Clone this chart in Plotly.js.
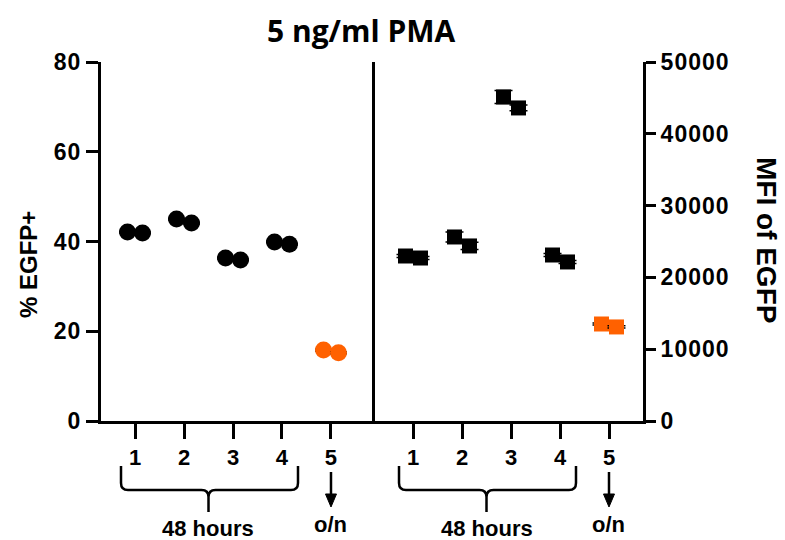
<!DOCTYPE html>
<html>
<head>
<meta charset="utf-8">
<script src="https://cdn.plot.ly/plotly-3.0.1.min.js"></script>
<style>
  html, body { margin: 0; padding: 0; background: #fff; }
  #chart { width: 785px; height: 540px; }
  g.ytick text, g.y2tick text { letter-spacing: 1px; }
</style>
</head>
<body>
<div id="chart"></div>
<script>
// ---- data ----
const groups = [1, 2, 3, 4, 5];
const groupLabels = ['1', '2', '3', '4', '5'];
const pctRep1 = [42.1, 45.0, 36.3, 39.9, 15.8];   // % EGFP+, first replicate
const pctRep2 = [41.9, 44.1, 35.9, 39.4, 15.2];   // % EGFP+, second replicate
const pctErr1 = [0.2, 0.2, 0.2, 0.2, 0.2];
const pctErr2 = [0.2, 0.2, 0.2, 0.2, 0.2];
const mfiRep1 = [22980, 25630, 45130, 23120, 13510]; // MFI of EGFP, first replicate
const mfiRep2 = [22700, 24380, 43600, 22150, 13100]; // MFI of EGFP, second replicate
const mfiErr1 = [200, 700, 900, 200, 150];
const mfiErr2 = [200, 500, 400, 200, 150];
const pointColors = ['#000000', '#000000', '#000000', '#000000', '#FF6100'];
const yTicksPct = [0, 20, 40, 60, 80];
const yTicksMfi = [0, 10000, 20000, 30000, 40000, 50000];
const yTickTextMfi = ['0', '10000', '20000', '30000', '40000', '50000'];

// ---- layout geometry ----
const W = 785, H = 540;
const M = { l: 101, r: 142, t: 62, b: 119 };
const plotW = W - M.l - M.r, plotH = H - M.t - M.b;
const xRange1 = [0.306, 5.837];
const xRange2 = [0.163, 5.694];
const dom1 = [0, 0.5], dom2 = [0.5, 1];
const jitter = 0.153;

function dataToPx(v, range, dom) {
  const x0 = M.l + dom[0] * plotW, x1 = M.l + dom[1] * plotW;
  return x0 + (v - range[0]) / (range[1] - range[0]) * (x1 - x0);
}
const pxX = px => (px - M.l) / plotW;
const pxY = py => (M.t + plotH - py) / plotH;

const font = 'Liberation Sans, Arial, sans-serif';

function trace(xs, ys, errs, xa, ya, symbol, size, capW) {
  return {
    type: 'scatter', mode: 'markers', x: xs, y: ys, xaxis: xa, yaxis: ya,
    marker: { symbol: symbol, size: size, color: pointColors, line: { width: 0 } },
    error_y: { type: 'data', array: errs, visible: true, color: '#000', thickness: 1.5, width: capW },
    cliponaxis: false, hoverinfo: 'skip', showlegend: false
  };
}

const data = [
  trace(groups.map(g => g - jitter), pctRep1, pctErr1, 'x', 'y', 'circle', 17, 8.5),
  trace(groups.map(g => g + jitter), pctRep2, pctErr2, 'x', 'y', 'circle', 17, 8.5),
  trace(groups.map(g => g - jitter), mfiRep1, mfiErr1, 'x2', 'y2', 'square', 15, 9),
  trace(groups.map(g => g + jitter), mfiRep2, mfiErr2, 'x2', 'y2', 'square', 15, 9)
];

const axisCommon = {
  showgrid: false, zeroline: false, showline: true, linecolor: '#000', linewidth: 3,
  ticks: 'outside', tickcolor: '#000', fixedrange: true
};
const xTickFont = { family: font, size: 22, color: '#000', weight: 'bold' };
const yTickFont = { family: font, size: 23, color: '#000', weight: 'bold' };

// braces, arrows
const shapes = [];
const annotations = [];
function addBraceAndArrow(range, dom) {
  const t1 = dataToPx(groups[0], range, dom);
  const t2 = dataToPx(groups[1], range, dom);
  const t3 = dataToPx(groups[2], range, dom);
  const t4 = dataToPx(groups[3], range, dom);
  const t5 = dataToPx(groups[4], range, dom);
  const xL = t1 - 14, xR = t4 + 16, xc = (t2 + t3) / 2;
  const yTop = 466, yMid = 490, yBot = 512, r = 7;
  const P = (x, y) => pxX(x).toFixed(5) + ',' + pxY(y).toFixed(5);
  const path =
    'M' + P(xL, yTop) + ' L' + P(xL, yMid - r) + ' Q' + P(xL, yMid) + ' ' + P(xL + r, yMid) +
    ' L' + P(xc - r, yMid) + ' Q' + P(xc, yMid) + ' ' + P(xc, yMid + r) + ' L' + P(xc, yBot) +
    ' M' + P(xc, yMid + r) + ' Q' + P(xc, yMid) + ' ' + P(xc + r, yMid) +
    ' L' + P(xR - r, yMid) + ' Q' + P(xR, yMid) + ' ' + P(xR, yMid - r) + ' L' + P(xR, yTop);
  shapes.push({ type: 'path', xref: 'paper', yref: 'paper', path: path,
    line: { color: '#000', width: 2.5 } });
  // arrow under group 5
  shapes.push({ type: 'line', xref: 'paper', yref: 'paper',
    x0: pxX(t5), x1: pxX(t5), y0: pxY(472), y1: pxY(496), line: { color: '#000', width: 2.5 } });
  shapes.push({ type: 'path', xref: 'paper', yref: 'paper',
    path: 'M' + P(t5 - 5.5, 494) + ' L' + P(t5 + 5.5, 494) + ' L' + P(t5, 507) + ' Z',
    fillcolor: '#000', line: { color: '#000', width: 1 } });
  annotations.push({ xref: 'paper', yref: 'paper', x: pxX(xc), y: pxY(528),
    text: '<b>48 hours</b>', showarrow: false, xanchor: 'center', yanchor: 'middle',
    font: { family: font, size: 22, color: '#000' } });
  annotations.push({ xref: 'paper', yref: 'paper', x: pxX(t5), y: pxY(524),
    text: '<b>o/n</b>', showarrow: false, xanchor: 'center', yanchor: 'middle',
    font: { family: font, size: 22, color: '#000' } });
}
addBraceAndArrow(xRange1, dom1);
addBraceAndArrow(xRange2, dom2);

annotations.push({ xref: 'paper', yref: 'paper', x: pxX(361), y: pxY(31),
  text: '<b>5 ng/ml PMA</b>', showarrow: false, xanchor: 'center', yanchor: 'middle',
  font: { family: 'Open Sans, sans-serif', size: 30, color: '#000' } });
annotations.push({ xref: 'paper', yref: 'paper', x: pxX(28), y: pxY(265),
  text: '<b>% EGFP+</b>', showarrow: false, textangle: -90, xanchor: 'center', yanchor: 'middle',
  font: { family: font, size: 24, color: '#000' } });
annotations.push({ xref: 'paper', yref: 'paper', x: pxX(766), y: pxY(240),
  text: '<b>MFI of EGFP</b>', showarrow: false, textangle: 90, xanchor: 'center', yanchor: 'middle',
  font: { family: font, size: 28, color: '#000' } });

const layout = {
  width: W, height: H, margin: M, paper_bgcolor: '#fff', plot_bgcolor: '#fff',
  showlegend: false,
  xaxis: Object.assign({}, axisCommon, { domain: dom1, range: xRange1, anchor: 'y',
    tickmode: 'array', tickvals: groups, ticktext: groupLabels, ticklen: 15, tickwidth: 3,
    tickfont: xTickFont }),
  xaxis2: Object.assign({}, axisCommon, { domain: dom2, range: xRange2, anchor: 'y2',
    tickmode: 'array', tickvals: groups, ticktext: groupLabels, ticklen: 15, tickwidth: 3,
    tickfont: xTickFont }),
  yaxis: Object.assign({}, axisCommon, { range: [0, 80], anchor: 'x', side: 'left',
    tickmode: 'array', tickvals: yTicksPct, ticklen: 12, tickwidth: 3, mirror: true,
    tickfont: yTickFont }),
  yaxis2: Object.assign({}, axisCommon, { range: [0, 50000], anchor: 'x2', side: 'right',
    tickmode: 'array', tickvals: yTicksMfi, ticktext: yTickTextMfi, ticklen: 10, tickwidth: 3,
    tickfont: yTickFont }),
  shapes: shapes,
  annotations: annotations
};

Plotly.newPlot('chart', data, layout, { staticPlot: true, displayModeBar: false });
</script>
</body>
</html>
